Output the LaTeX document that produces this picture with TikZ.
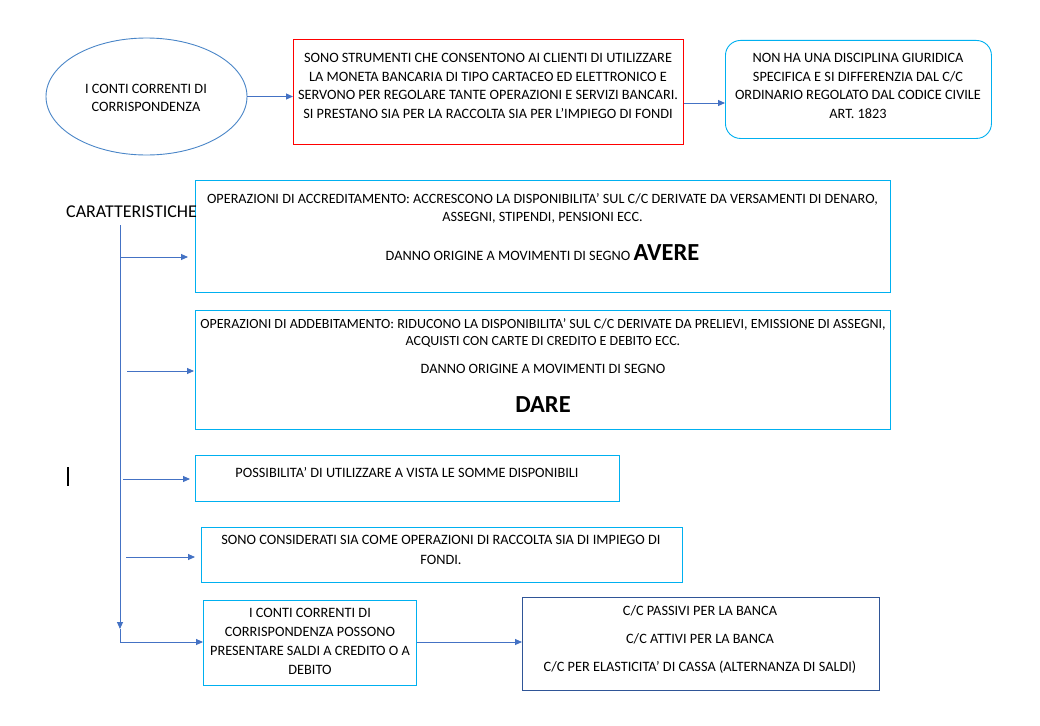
\documentclass[tikz,border=0pt]{standalone}
\usepackage{fontspec}
\setmainfont{Carlito}
\usetikzlibrary{arrows.meta,shapes.geometric}
\definecolor{arrowblue}{HTML}{4472C4}
\definecolor{cyanline}{HTML}{00B0F0}
\definecolor{ellblue}{HTML}{4A86C8}
\definecolor{darkblue}{HTML}{2F5597}
\tikzset{
  conn/.style={draw=arrowblue, line width=0.9pt, -{Triangle[length=7pt,width=6pt]}},
  cyanbox/.style={draw=cyanline, line width=0.9pt, rectangle, anchor=north west, inner sep=0pt},
  txt/.style={align=center, inner sep=0pt, font=\fontsize{14.3}{18.7}\selectfont},
  smalltxt/.style={align=center, inner sep=0pt, font=\fontsize{14.3}{17.5}\selectfont},
  bigword/.style={inner sep=0pt, font=\fontsize{24.5}{24.5}\selectfont\bfseries},
}
\begin{document}
\begin{tikzpicture}[x=1pt,y=-1pt]
\useasboundingbox[fill=white] (0,0) rectangle (1040,725);

% top row
\node[ellipse, draw=ellblue, line width=0.9pt, minimum width=201pt, minimum height=117pt, inner sep=0pt] (ell) at (146.5,96.5) {};
\node[txt, font=\fontsize{14.3}{18}\selectfont] (ellt) at (146,98) {I CONTI CORRENTI DI\\CORRISPONDENZA};

\node[draw=red, line width=0.9pt, rectangle, anchor=north west, minimum width=390pt, minimum height=105pt, inner sep=0pt] (red) at (293,39) {};
\node[txt] (redt) at (488,86) {SONO STRUMENTI CHE CONSENTONO AI CLIENTI DI UTILIZZARE\\LA MONETA BANCARIA DI TIPO CARTACEO ED ELETTRONICO E\\SERVONO PER REGOLARE TANTE OPERAZIONI E SERVIZI BANCARI.\\SI PRESTANO SIA PER LA RACCOLTA SIA PER L’IMPIEGO DI FONDI};

\node[draw=cyanline, line width=0.9pt, rounded corners=15pt, rectangle, anchor=north west, minimum width=266pt, minimum height=98pt, inner sep=0pt] (rnd) at (725,40) {};
\node[txt] (rndt) at (858,86) {NON HA UNA DISCIPLINA GIURIDICA\\SPECIFICA E SI DIFFERENZIA DAL C/C\\ORDINARIO REGOLATO DAL CODICE CIVILE\\ART. 1823};

\draw[conn] (ell.east) -- (red.west |- ell.east);
\draw[conn] (red.east |- 0,103) -- (rnd.west |- 0,103);

% characteristics
\node[cyanbox, minimum width=695pt, minimum height=112pt] (b1) at (195,180) {};
\node[cyanbox, minimum width=695pt, minimum height=119pt] (b2) at (195,310) {};
\node[cyanbox, minimum width=424pt, minimum height=46pt] (b3) at (195,455) {};
\node[cyanbox, minimum width=481pt, minimum height=55pt] (b4) at (201,527) {};
\node[cyanbox, minimum width=213pt, minimum height=85pt] (b5) at (203,600) {};
\node[draw=darkblue, line width=0.9pt, rectangle, anchor=north west, minimum width=357pt, minimum height=93pt, inner sep=0pt] (b6) at (522,597) {};

\node[anchor=west, inner sep=0pt, font=\fontsize{18}{18}\selectfont] (car) at (66,212) {CARATTERISTICHE};

\node[smalltxt, font=\fontsize{14.2}{18}\selectfont] (t1a) at (542.5,208) {OPERAZIONI DI ACCREDITAMENTO: ACCRESCONO LA DISPONIBILITA’ SUL C/C DERIVATE DA VERSAMENTI DI DENARO,\\ASSEGNI, STIPENDI, PENSIONI ECC.};
\node[smalltxt] (t1b) at (542.5,253) {DANNO ORIGINE A MOVIMENTI DI SEGNO {\fontsize{24.5}{24.5}\selectfont\bfseries AVERE}};

\node[smalltxt, font=\fontsize{14}{16.5}\selectfont] (t2a) at (543,333) {OPERAZIONI DI ADDEBITAMENTO: RIDUCONO LA DISPONIBILITA’ SUL C/C DERIVATE DA PRELIEVI, EMISSIONE DI ASSEGNI,\\ACQUISTI CON CARTE DI CREDITO E DEBITO ECC.};
\node[smalltxt] (t2b) at (543,369) {DANNO ORIGINE A MOVIMENTI DI SEGNO};
\node[bigword] (t2c) at (543,405) {DARE};

\node[smalltxt] (t3) at (407,473) {POSSIBILITA’ DI UTILIZZARE A VISTA LE SOMME DISPONIBILI};
\node[smalltxt, font=\fontsize{14.3}{20}\selectfont] (t4) at (441,550) {SONO CONSIDERATI SIA COME OPERAZIONI DI RACCOLTA SIA DI IMPIEGO DI\\FONDI.};
\node[smalltxt, font=\fontsize{14.3}{19}\selectfont] (t5) at (310,641) {I CONTI CORRENTI DI\\CORRISPONDENZA POSSONO\\PRESENTARE SALDI A CREDITO O A\\DEBITO};
\node[smalltxt, font=\fontsize{14.3}{28}\selectfont] (t6) at (700,640) {C/C PASSIVI PER LA BANCA\\C/C ATTIVI PER LA BANCA\\C/C PER ELASTICITA’ DI CASSA (ALTERNANZA DI SALDI)};

% spine
\coordinate (top) at (120,225);
\coordinate (mid) at (120,629);
\draw[conn] (top) -- (mid);
\draw[conn] (mid) |- (b5.west |- 0,642);

\coordinate (s1) at (120,257);
\coordinate (s2) at (127,371);
\coordinate (s3) at (123,479);
\coordinate (s4) at (126,557);
\coordinate (e1) at (188,257);
\coordinate (e2) at (194,371);
\coordinate (e3) at (190,479);
\coordinate (e4) at (195,557);
\draw[conn] (s1) -- (e1);
\draw[conn] (s2) -- (e2);
\draw[conn] (s3) -- (e3);
\draw[conn] (s4) -- (e4);

\draw[conn] (b5.east |- 0,642) -- (b6.west |- 0,642);

% text cursor mark
\draw[line width=1.6pt] (68,467) -- (68,486);
\end{tikzpicture}
\end{document}
